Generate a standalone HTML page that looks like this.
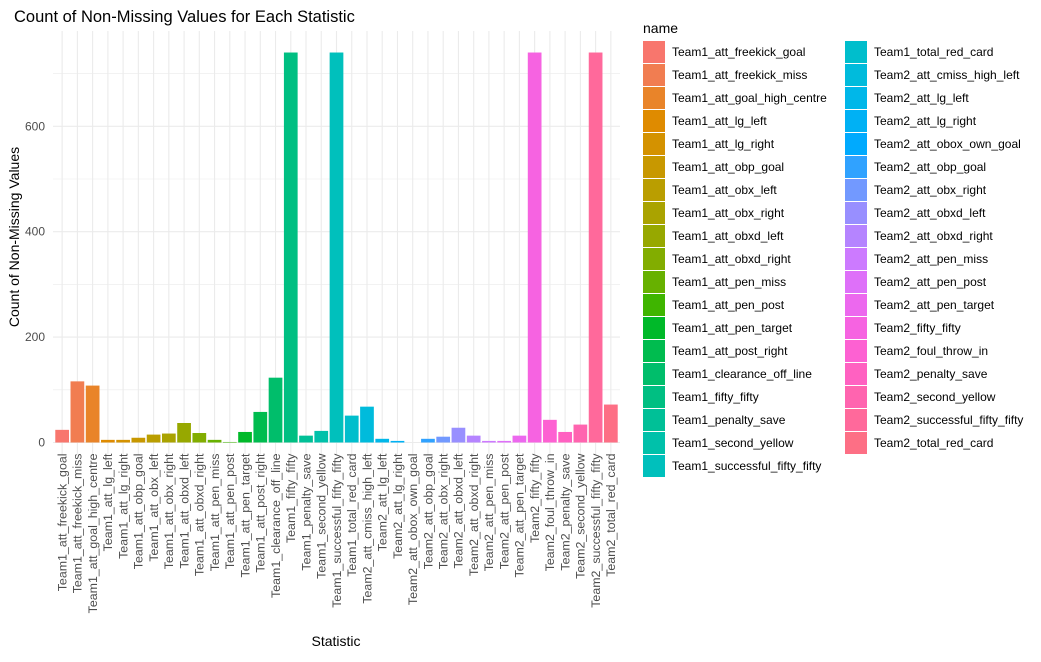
<!DOCTYPE html>
<html><head><meta charset="utf-8"><style>
body{margin:0;background:#fff;font-family:"Liberation Sans",sans-serif;}
svg text{font-family:"Liberation Sans",sans-serif;}
</style></head><body>
<svg id="chart" width="1041" height="657" xmlns="http://www.w3.org/2000/svg">
<rect width="1041" height="657" fill="#fff"/>
<text x="14" y="22" font-size="16.5" fill="#000">Count of Non-Missing Values for Each Statistic</text>
<g id="grid"></g><g id="bars"></g><g id="axes"></g><g id="legend"></g>
<text x="336" y="646" font-size="14" fill="#000" text-anchor="middle">Statistic</text>
<text transform="translate(19,237) rotate(-90)" font-size="14" fill="#000" text-anchor="middle">Count of Non-Missing Values</text>
</svg>
<script>
const categories=["Team1_att_freekick_goal","Team1_att_freekick_miss","Team1_att_goal_high_centre","Team1_att_lg_left","Team1_att_lg_right","Team1_att_obp_goal","Team1_att_obx_left","Team1_att_obx_right","Team1_att_obxd_left","Team1_att_obxd_right","Team1_att_pen_miss","Team1_att_pen_post","Team1_att_pen_target","Team1_att_post_right","Team1_clearance_off_line","Team1_fifty_fifty","Team1_penalty_save","Team1_second_yellow","Team1_successful_fifty_fifty","Team1_total_red_card","Team2_att_cmiss_high_left","Team2_att_lg_left","Team2_att_lg_right","Team2_att_obox_own_goal","Team2_att_obp_goal","Team2_att_obx_right","Team2_att_obxd_left","Team2_att_obxd_right","Team2_att_pen_miss","Team2_att_pen_post","Team2_att_pen_target","Team2_fifty_fifty","Team2_foul_throw_in","Team2_penalty_save","Team2_second_yellow","Team2_successful_fifty_fifty","Team2_total_red_card"];
const values=[24,116,108,5,5,9,15,17,37,18,5,1,20,58,123,740,13,22,740,51,68,7,3,0,7,11,28,13,3,3,13,740,43,20,34,740,72];
const yTicks=[0,200,400,600];
const yMinor=[100,300,500,700];

const NS="http://www.w3.org/2000/svg";
const px0=53,px1=620,py0=31,yZero=442.5,k=0.527;
const n=categories.length, step=(px1-px0)/(n-1+1.2);
const xS=i=>px0+(i+0.6)*step;
const yS=v=>yZero-v*k;
function hcl(h,c,l){const hr=h*Math.PI/180;const L=l,U=c*Math.cos(hr),V=c*Math.sin(hr);
const un=0.19784,vn=0.46834;const Y=L>8?Math.pow((L+16)/116,3):L/903.3;
const u=U/(13*L)+un,v=V/(13*L)+vn;const X=9*Y*u/(4*v);
const Zz=Y*(12-3*u-20*v)/(4*v);
let r=3.2404542*X-1.5371385*Y-0.4985314*Zz,g=-0.9692660*X+1.8760108*Y+0.0415560*Zz,b=0.0556434*X-0.2040259*Y+1.0572252*Zz;
const f=t=>{t=t<=0.0031308?12.92*t:1.055*Math.pow(t,1/2.4)-0.055;return Math.round(Math.max(0,Math.min(1,t))*255);};
return `rgb(${f(r)},${f(g)},${f(b)})`;}
const colors=categories.map((_,i)=>hcl(15+360*i/n,100,65));
function mk(tag,attrs,parent){const e=document.createElementNS(NS,tag);for(const a in attrs)e.setAttribute(a,attrs[a]);parent.appendChild(e);return e;}
const grid=document.getElementById('grid'),bars=document.getElementById('bars'),axes=document.getElementById('axes'),leg=document.getElementById('legend');
yMinor.forEach(t=>{const l=mk('line',{x1:px0,x2:px1,y1:yS(t),y2:yS(t),stroke:'#ebebeb','stroke-width':0.6},grid);

});
yTicks.forEach(t=>{const l=mk('line',{x1:px0,x2:px1,y1:yS(t),y2:yS(t),stroke:'#ebebeb','stroke-width':1.1},grid);


const tx=mk('text',{x:45,y:yS(t)+4,'font-size':12,fill:'#4d4d4d','text-anchor':'end'},axes);tx.textContent=t;

});
categories.forEach((c,i)=>{const x=xS(i);
const l=mk('line',{x1:x,x2:x,y1:py0,y2:yZero+12,stroke:'#ebebeb','stroke-width':1.1},grid);


const w=step*0.9;const r=mk('rect',{x:x-w/2,y:yS(values[i]),width:w,height:Math.max(0,values[i]*k),fill:colors[i]},bars);


const tx=mk('text',{transform:`translate(${x+4.3},${yZero+11}) rotate(-90)`,'font-size':12.4,fill:'#4d4d4d','text-anchor':'end'},axes);tx.textContent=c;

});
const lt=mk('text',{x:643,y:33,'font-size':14,fill:'#000'},leg);lt.textContent='name';


categories.forEach((c,i)=>{const col=i<19?0:1,row=i<19?i:i-19;const x=col?845:643,y=41+row*23;
const g=mk('g',{},leg);


mk('rect',{x:x,y:y,width:22,height:22,fill:colors[i]},g);
const tx=mk('text',{x:x+29,y:y+15,'font-size':12,fill:'#000'},g);tx.textContent=c;});
</script>
</body></html>
